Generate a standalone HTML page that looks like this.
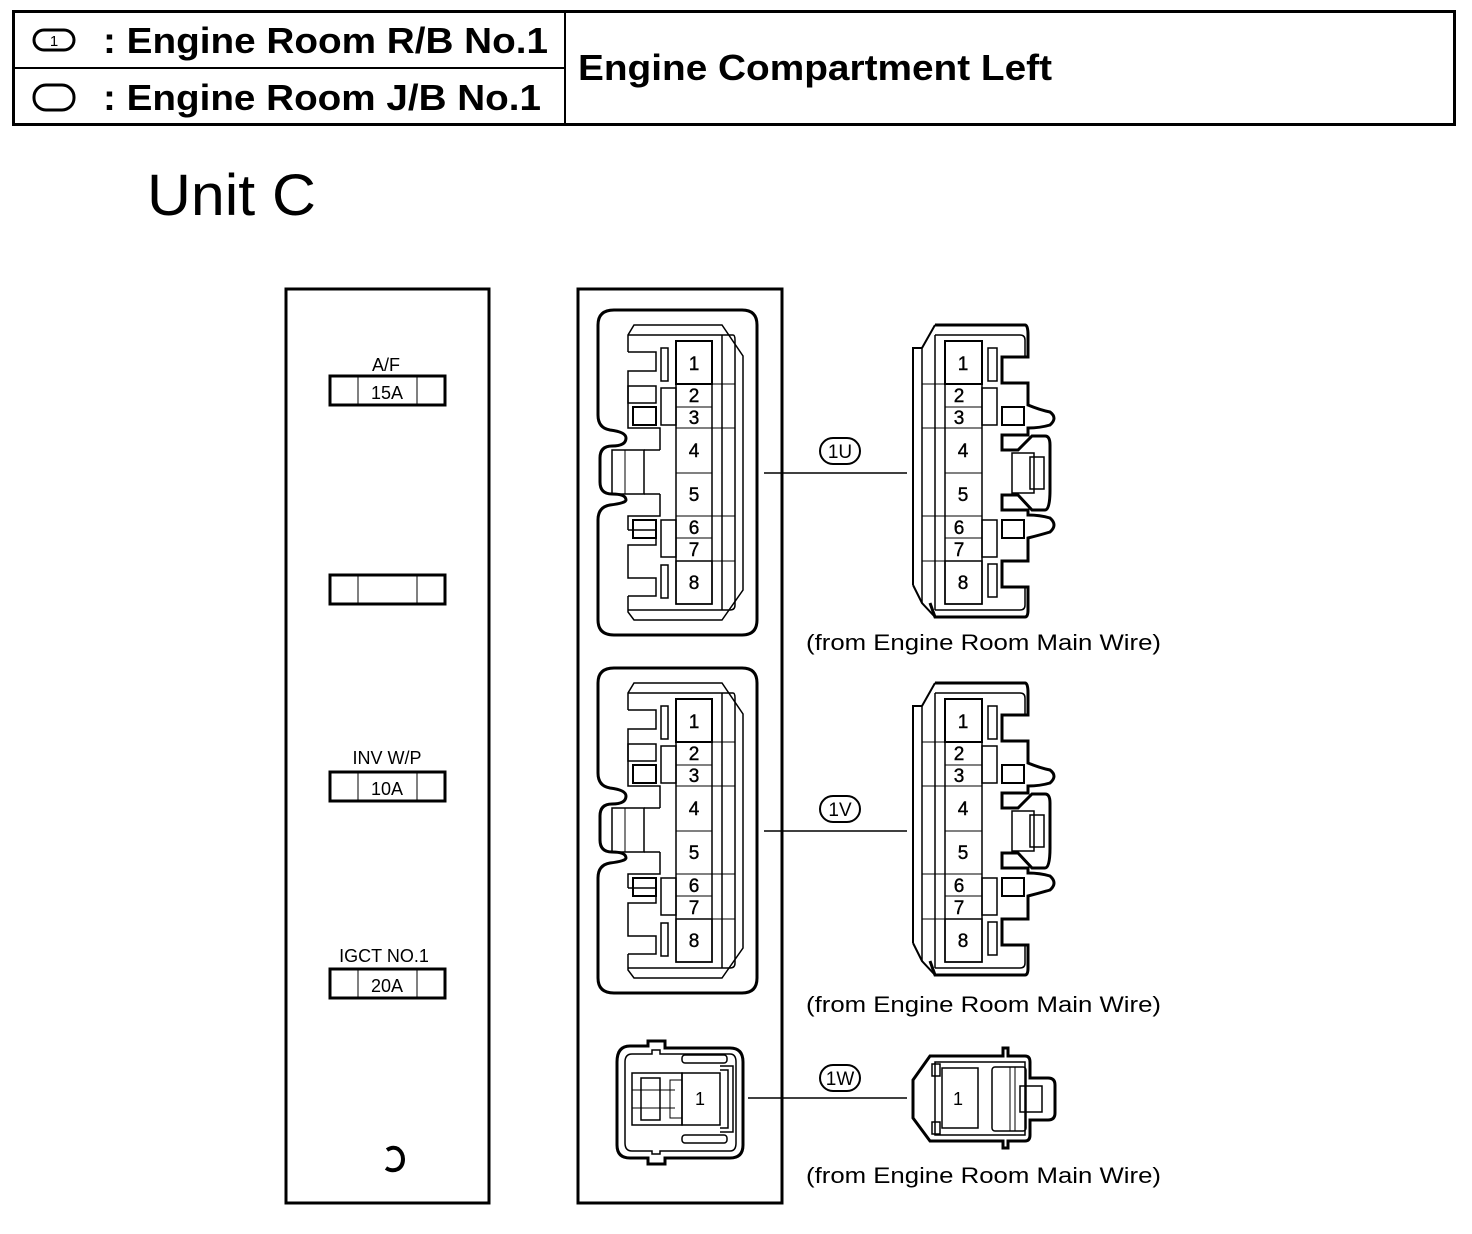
<!DOCTYPE html>
<html><head><meta charset="utf-8"><style>
html,body{margin:0;padding:0;background:#fff}
svg{display:block}
text{font-family:"Liberation Sans",sans-serif;fill:#000}
</style></head><body>
<svg width="1472" height="1234" viewBox="0 0 1472 1234" xmlns="http://www.w3.org/2000/svg">
<defs>
<g id="lc" fill="none" stroke="#000">
  <path stroke-width="3" d="M614,310 H742 Q757,310 757,325 V620 Q757,635 742,635 H614 Q598,635 598,620 V520 Q598,507 610,505 Q626,503 626,500 Q626,494 612,494 Q600,494 600,482 V458 Q600,446 612,446 Q626,446 626,438 Q626,432 610,430 Q598,428 598,415 V325 Q598,310 614,310 Z"/>
  <path stroke-width="1.5" d="M628,352 V335 L634,325 H722 L743,356 V590 L722,620 H634 L628,612 V596"/>
  <path stroke-width="1.5" d="M628,335 H733 Q735,335 735,340 V605 Q735,610 730,610 H628"/>
  <line x1="722" y1="335" x2="722" y2="610" stroke-width="1.5"/>
  <line x1="712" y1="384" x2="735" y2="384" stroke-width="1"/>
  <line x1="712" y1="428" x2="735" y2="428" stroke-width="1"/>
  <line x1="712" y1="516" x2="735" y2="516" stroke-width="1"/>
  <line x1="712" y1="561" x2="735" y2="561" stroke-width="1"/>
  <path stroke-width="1.5" d="M628,352 H656 V371 H628 V428 H660 V450 M660,494 V516 H628 V530 M628,596 H656 V578 H628 V545 H656 V530 H628"/>
  <rect x="628" y="386" width="28" height="17" stroke-width="1.5"/>
  <rect x="633" y="407" width="23" height="18" stroke-width="2"/>
  <rect x="633" y="520" width="23" height="18" stroke-width="2"/>
  <rect x="661" y="348" width="7" height="33" stroke-width="1.5"/>
  <rect x="661" y="565" width="7" height="33" stroke-width="1.5"/>
  <rect x="661" y="388" width="15" height="37" stroke-width="1.5"/>
  <rect x="661" y="520" width="15" height="37" stroke-width="1.5"/>
  <rect x="612" y="450" width="32" height="44" stroke-width="1.5"/>
  <line x1="644" y1="450" x2="660" y2="450" stroke-width="1.5"/>
  <line x1="644" y1="494" x2="660" y2="494" stroke-width="1.5"/>
  <line x1="625" y1="450" x2="625" y2="494" stroke-width="1"/>
  <rect x="676" y="341" width="36" height="263" stroke-width="1.5"/>
  <rect x="676" y="341" width="36" height="43" stroke-width="2"/>
  <rect x="676" y="561" width="36" height="43" stroke-width="1.5"/>
  <g stroke-width="1"><line x1="676" y1="407" x2="712" y2="407"/><line x1="676" y1="428" x2="712" y2="428"/><line x1="676" y1="473" x2="712" y2="473"/><line x1="676" y1="516" x2="712" y2="516"/><line x1="676" y1="538" x2="712" y2="538"/></g>
</g>
<g id="rc" fill="none" stroke="#000">
  <path stroke-width="3" d="M935,325 H1025 Q1028,325 1028,335 V357 H1002 V383 H1028 V405 Q1040,410 1050,412 Q1058,418 1050,425 Q1040,428 1028,428 V435 H1002 V450 H1018 L1032,436 H1045 Q1050,436 1050,445 V490 Q1050,510 1045,510 H1032 L1018,495 H1002 V510 H1028 V515 Q1040,515 1050,518 Q1058,525 1050,532 Q1040,535 1028,538 V561 H1002 V587 H1028 V610 M930,603 L935,617 H1025 Q1028,617 1028,610"/>
  <path stroke-width="2" d="M922,348 L935,325 M913,360 V585 M922,348 H913 V360 M913,585 L922,603 L935,617"/>
  <line x1="922" y1="348" x2="922" y2="603" stroke-width="1.5"/>
  <path stroke-width="1.5" d="M935,335 H1020 Q1025,335 1025,340 V357 M935,610 H1020 Q1025,610 1025,605 V587"/>
  <line x1="935" y1="335" x2="935" y2="610" stroke-width="1.5"/>
  <g stroke-width="1"><line x1="922" y1="384" x2="945" y2="384"/><line x1="922" y1="428" x2="945" y2="428"/><line x1="922" y1="516" x2="945" y2="516"/><line x1="922" y1="561" x2="945" y2="561"/></g>
  <rect x="988" y="348" width="9" height="33" stroke-width="1.5"/>
  <rect x="988" y="564" width="9" height="33" stroke-width="1.5"/>
  <rect x="982" y="388" width="15" height="37" stroke-width="1.5"/>
  <rect x="982" y="520" width="15" height="37" stroke-width="1.5"/>
  <rect x="1002" y="407" width="22" height="18" stroke-width="2"/>
  <rect x="1002" y="520" width="22" height="18" stroke-width="2"/>
  <rect x="1012" y="453" width="22" height="40" stroke-width="1.5"/>
  <rect x="1030" y="457" width="14" height="32" stroke-width="1.5"/>
  <rect x="945" y="341" width="37" height="263" stroke-width="1.5"/>
  <rect x="945" y="341" width="37" height="43" stroke-width="2"/>
  <rect x="945" y="561" width="37" height="43" stroke-width="1.5"/>
  <g stroke-width="1"><line x1="945" y1="407" x2="982" y2="407"/><line x1="945" y1="428" x2="982" y2="428"/><line x1="945" y1="473" x2="982" y2="473"/><line x1="945" y1="516" x2="982" y2="516"/><line x1="945" y1="538" x2="982" y2="538"/></g>
</g>
</defs>

<rect x="13.5" y="11.5" width="1441" height="113" fill="none" stroke="#000" stroke-width="3"/>
<line x1="565" y1="11" x2="565" y2="125" stroke="#000" stroke-width="2"/>
<line x1="13" y1="68" x2="565" y2="68" stroke="#000" stroke-width="2"/>
<rect x="34" y="30" width="40" height="20" rx="10" fill="none" stroke="#000" stroke-width="3"/>
<text x="54" y="46" font-size="15" text-anchor="middle">1</text>
<text x="103" y="53" font-size="36" font-weight="bold" textLength="445" lengthAdjust="spacingAndGlyphs">: Engine Room R/B No.1</text>
<rect x="34" y="85" width="40" height="25" rx="12" fill="none" stroke="#000" stroke-width="3"/>
<text x="103" y="110" font-size="36" font-weight="bold" textLength="438" lengthAdjust="spacingAndGlyphs">: Engine Room J/B No.1</text>
<text x="578" y="80" font-size="36" font-weight="bold" textLength="474" lengthAdjust="spacingAndGlyphs">Engine Compartment Left</text>

<text x="147" y="215" font-size="58" textLength="169" lengthAdjust="spacingAndGlyphs">Unit C</text>

<rect x="286" y="289" width="203" height="914" fill="none" stroke="#000" stroke-width="3"/>
<g fill="none" stroke="#000">
<rect x="330" y="376" width="115" height="29" stroke-width="3"/><line x1="358" y1="376" x2="358" y2="405"/><line x1="417" y1="376" x2="417" y2="405"/>
<rect x="330" y="575" width="115" height="29" stroke-width="3"/><line x1="358" y1="575" x2="358" y2="604"/><line x1="417" y1="575" x2="417" y2="604"/>
<rect x="330" y="772" width="115" height="29" stroke-width="3"/><line x1="358" y1="772" x2="358" y2="801"/><line x1="417" y1="772" x2="417" y2="801"/>
<rect x="330" y="969" width="115" height="29" stroke-width="3"/><line x1="358" y1="969" x2="358" y2="998"/><line x1="417" y1="969" x2="417" y2="998"/>
<path d="M387,1150 Q393,1146 398,1149 Q403,1153 403,1159 Q403,1166 398,1169 Q392,1172 386,1168" stroke-width="4"/>
</g>
<g font-size="18" text-anchor="middle">
<text x="386" y="371">A/F</text><text x="387" y="399">15A</text>
<text x="387" y="764">INV W/P</text><text x="387" y="795">10A</text>
<text x="384" y="962">IGCT NO.1</text><text x="387" y="992">20A</text>
</g>

<rect x="578" y="289" width="204" height="914" fill="none" stroke="#000" stroke-width="3"/>

<use href="#lc"/>
<use href="#rc"/>
<use href="#lc" transform="translate(0,358)"/>
<use href="#rc" transform="translate(0,358)"/>

<g font-size="19" text-anchor="middle" stroke="#000" stroke-width="0.4">
<text x="694" y="370">1</text><text x="694" y="402">2</text><text x="694" y="424">3</text><text x="694" y="457">4</text><text x="694" y="501">5</text><text x="694" y="534">6</text><text x="694" y="556">7</text><text x="694" y="589">8</text>
<text x="963" y="370">1</text><text x="959" y="402">2</text><text x="959" y="424">3</text><text x="963" y="457">4</text><text x="963" y="501">5</text><text x="959" y="534">6</text><text x="959" y="556">7</text><text x="963" y="589">8</text>
<text x="694" y="728">1</text><text x="694" y="760">2</text><text x="694" y="782">3</text><text x="694" y="815">4</text><text x="694" y="859">5</text><text x="694" y="892">6</text><text x="694" y="914">7</text><text x="694" y="947">8</text>
<text x="963" y="728">1</text><text x="959" y="760">2</text><text x="959" y="782">3</text><text x="963" y="815">4</text><text x="963" y="859">5</text><text x="959" y="892">6</text><text x="959" y="914">7</text><text x="963" y="947">8</text>
</g>

<g stroke="#000" fill="none">
<line x1="764" y1="473" x2="907" y2="473" stroke-width="1.5"/>
<line x1="764" y1="831" x2="907" y2="831" stroke-width="1.5"/>
<line x1="748" y1="1098" x2="907" y2="1098" stroke-width="1.5"/>
<rect x="820" y="438" width="40" height="26" rx="13" stroke-width="2"/>
<rect x="820" y="796" width="40" height="26" rx="13" stroke-width="2"/>
<rect x="820" y="1065" width="40" height="26" rx="13" stroke-width="2"/>
</g>
<g font-size="19" text-anchor="middle">
<text x="840" y="458">1U</text><text x="840" y="816">1V</text><text x="840" y="1085">1W</text>
</g>
<g font-size="22">
<text x="806" y="650" textLength="355" lengthAdjust="spacingAndGlyphs">(from Engine Room Main Wire)</text>
<text x="806" y="1012" textLength="355" lengthAdjust="spacingAndGlyphs">(from Engine Room Main Wire)</text>
<text x="806" y="1183" textLength="355" lengthAdjust="spacingAndGlyphs">(from Engine Room Main Wire)</text>
</g>

<g fill="none" stroke="#000">
<path stroke-width="3" d="M630,1046 H648 V1041 H665 V1048 H730 Q743,1048 743,1062 V1145 Q743,1158 730,1158 H665 V1164 H648 V1158 H630 Q617,1158 617,1145 V1062 Q617,1046 630,1046 Z"/>
<path stroke-width="1.5" d="M632,1054 H652 V1050 H660 V1054 H730 Q736,1054 736,1062 V1143 Q736,1151 730,1151 H660 V1154 H652 V1151 H632 Q625,1151 625,1143 V1062 Q625,1054 632,1054 Z"/>
<rect x="682" y="1073" width="38" height="52" stroke-width="1.5"/>
<path stroke-width="1.5" d="M720,1066 H733 V1132 H720 M720,1070 H728 V1128 H720"/>
<rect x="682" y="1055" width="45" height="8" rx="3" stroke-width="1.5"/>
<rect x="682" y="1135" width="45" height="8" rx="3" stroke-width="1.5"/>
<rect x="632" y="1073" width="50" height="52" stroke-width="1.5"/>
<rect x="641" y="1078" width="19" height="42" stroke-width="1.5"/>
<line x1="632" y1="1090" x2="675" y2="1090" stroke-width="1"/><line x1="632" y1="1108" x2="675" y2="1108" stroke-width="1"/>
<rect x="670" y="1080" width="12" height="38" stroke-width="1"/>
</g>
<text x="700" y="1105" font-size="18" text-anchor="middle">1</text>

<g fill="none" stroke="#000">
<path stroke-width="3" d="M930,1056 H1003 V1048 H1008 V1056 H1025 Q1030,1056 1030,1062 V1078 H1048 Q1055,1078 1055,1085 V1113 Q1055,1120 1048,1120 H1030 V1135 Q1030,1141 1025,1141 H1008 V1148 H1003 V1141 H930 L913,1118 V1080 Z"/>
<path stroke-width="1.5" d="M935,1062 H1025 V1135 H935 Z"/>
<rect x="932" y="1064" width="8" height="12" stroke-width="1.5"/>
<rect x="932" y="1122" width="8" height="12" stroke-width="1.5"/>
<rect x="942" y="1068" width="36" height="60" stroke-width="1.5"/>
<rect x="992" y="1067" width="34" height="64" rx="3" stroke-width="1.5"/>
<line x1="1010" y1="1067" x2="1010" y2="1131" stroke-width="1"/><line x1="1015" y1="1067" x2="1015" y2="1131" stroke-width="1"/>
<rect x="1020" y="1086" width="22" height="26" stroke-width="1.5"/>
</g>
<text x="958" y="1105" font-size="18" text-anchor="middle">1</text>
</svg>
</body></html>
